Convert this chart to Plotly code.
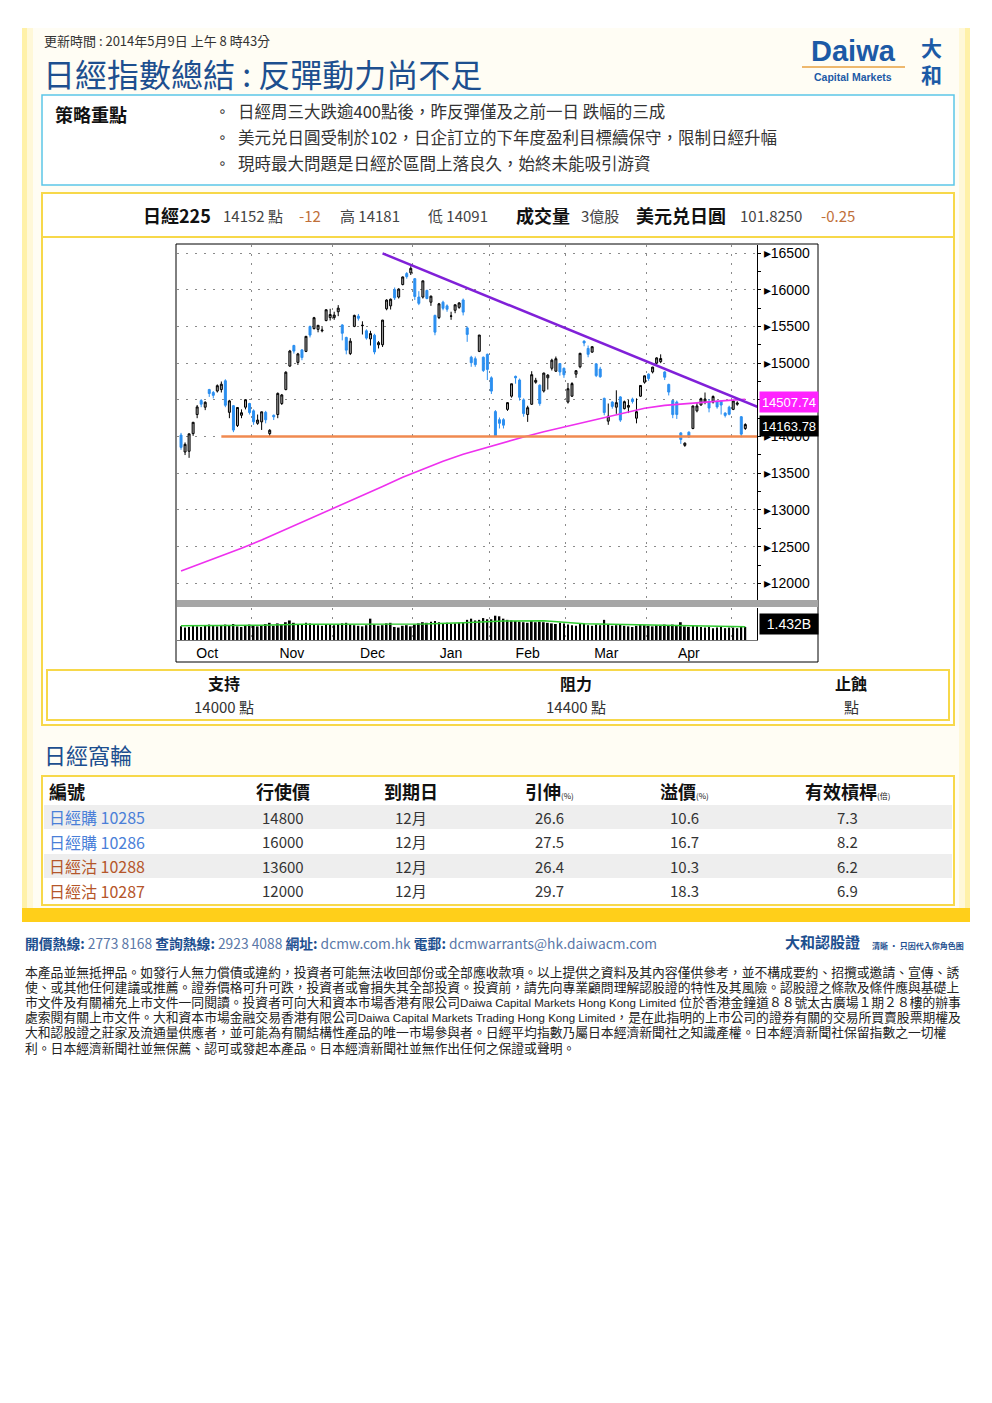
import plotly.graph_objects as go
import pandas as pd

W, H = 992, 1403
CJK = "Noto Sans CJK TC, Noto Sans CJK SC, sans-serif"
LAT = "Liberation Sans, Arial, sans-serif"
MIX = "Liberation Sans, Noto Sans CJK TC, sans-serif"

# ---------------- data ----------------
oct_days = [7, 8, 9, 10, 11, 15, 16, 17, 18, 21, 22, 23, 24, 25, 28, 29, 30, 31]
nov_days = [1, 5, 6, 7, 8, 11, 12, 13, 14, 15, 18, 19, 20, 21, 22, 25, 26, 27, 28, 29]
dec_days = [2, 3, 4, 5, 6, 9, 10, 11, 12, 13, 16, 17, 18, 19, 20, 24, 25, 26, 27, 30]
jan_days = [6, 7, 8, 9, 10, 14, 15, 16, 17, 20, 21, 22, 23, 24, 27, 28, 29, 30, 31]
feb_days = [3, 4, 5, 6, 7, 10, 12, 13, 14, 17, 18, 19, 20, 21, 24, 25, 26, 27, 28]
mar_days = [3, 4, 5, 6, 7, 10, 11, 12, 13, 14, 17, 18, 19, 20, 24, 25, 26, 27, 28, 31]
apr_days = [1, 2, 3, 4, 7, 8, 9, 10, 11, 14, 15, 16, 17, 18, 21, 22, 23, 24, 25, 28, 30]
may_days = [1, 2, 7, 8]

opens = [
    14020, 13790, 13800, 14040, 14300, 14490, 14400, 14640, 14600, 14620,
    14640, 14760, 14330, 14420, 14150, 14290, 14400, 14450, 14350, 14180,
    14200, 14330, 14040, 14290, 14300, 14450, 14640, 14960, 15240, 15010,
    15180, 15160, 15500, 15470, 15460, 15440, 15580, 15620, 15620, 15700,
    15520, 15350, 15130, 15500, 15640, 15510, 15440, 15330, 15380, 15250,
    15250, 15740, 15780, 16000, 15900, 16070, 16220, 16230, 16150, 15900,
    15900, 15990, 15830, 15650, 15620, 15830, 15780, 15640, 15720, 15760,
    15860, 15480, 15080, 15060, 15160, 15080, 15120, 14800, 14340, 14230,
    14230, 14370, 14550, 14820, 14770, 14500, 14300, 14440, 14740, 14700,
    14620, 14800, 14930, 14890, 14995, 14930, 14470, 14550, 14850, 14950,
    15300, 15200, 15150, 14990, 14920, 14520, 14210, 14470, 14400, 14540,
    14380, 14400, 14510, 14250, 14550, 14740, 14850, 14880, 15000, 15020,
    14880, 14710, 14490, 14470, 14050, 13880, 14060, 14110, 14350, 14430,
    14470, 14480, 14470, 14480, 14480, 14320, 14400, 14370, 14440, 14270,
    14110]
highs = [
    14050, 13920, 14040, 14200, 14430, 14510, 14480, 14650, 14620, 14710,
    14750, 14780, 14500, 14430, 14400, 14370, 14510, 14460, 14370, 14300,
    14340, 14350, 14100, 14300, 14600, 14580, 14890, 15180, 15250, 15140,
    15190, 15370, 15510, 15630, 15520, 15490, 15735, 15740, 15700, 15790,
    15530, 15360, 15340, 15660, 15670, 15570, 15460, 15440, 15400, 15300,
    15590, 15870, 15880, 16030, 16020, 16180, 16240, 16320, 16160, 15980,
    16120, 16000, 15920, 15660, 15820, 15850, 15800, 15700, 15800, 15830,
    15880, 15500, 15100, 15090, 15380, 15090, 15130, 14820, 14360, 14260,
    14250, 14470, 14720, 14830, 14790, 14520, 14420, 14890, 14800, 14710,
    14870, 14850, 15060, 15090, 15000, 14940, 14730, 14740, 14900, 15140,
    15310, 15240, 15230, 15000, 14950, 14530, 14450, 14480, 14630, 14550,
    14490, 14500, 14530, 14520, 14700, 14830, 14860, 14950, 15080, 15120,
    14890, 14720, 14500, 14490, 14060, 13920, 14070, 14420, 14460, 14530,
    14600, 14510, 14560, 14490, 14480, 14330, 14420, 14500, 14480, 14280,
    14181]
lows = [
    13820, 13748, 13710, 14010, 14250, 14400, 14360, 14540, 14520, 14600,
    14600, 14400, 14250, 14060, 14130, 14250, 14370, 14300, 14160, 14160,
    14090, 14180, 14000, 14225, 14250, 14430, 14630, 14950, 15130, 14975,
    15040, 15150, 15350, 15460, 15420, 15420, 15570, 15580, 15590, 15640,
    15310, 15120, 15110, 15490, 15580, 15390, 15320, 15240, 15120, 15200,
    15220, 15720, 15730, 15860, 15880, 16060, 16150, 16200, 15860, 15790,
    15880, 15870, 15780, 15380, 15600, 15720, 15700, 15590, 15680, 15740,
    15650, 15290, 14950, 14950, 15150, 14880, 14770, 14580, 13995, 14110,
    14110, 14350, 14530, 14720, 14490, 14270, 14200, 14430, 14720, 14420,
    14600, 14640, 14900, 14880, 14830, 14800, 14450, 14540, 14800, 14930,
    15230, 15080, 15140, 14810, 14800, 14290, 14160, 14380, 14310, 14200,
    14370, 14320, 14450, 14180, 14540, 14720, 14760, 14860, 14980, 15000,
    14770, 14560, 14250, 14240, 13900, 13860, 13980, 14100, 14330, 14420,
    14440, 14330, 14450, 14380, 14300, 14260, 14290, 14360, 14420, 13990,
    14091]
closes = [
    13853, 13894, 14037, 14194, 14404, 14441, 14467, 14586, 14561, 14693,
    14713, 14426, 14486, 14088, 14396, 14325, 14502, 14327, 14201, 14225,
    14337, 14228, 14086, 14269, 14588, 14567, 14876, 15165, 15164, 15126,
    15076, 15365, 15382, 15619, 15515, 15449, 15727, 15662, 15655, 15749,
    15407, 15177, 15299, 15650, 15611, 15515, 15341, 15403, 15152, 15279,
    15586, 15859, 15870, 15889, 16009, 16174, 16178, 16291, 15908, 15814,
    16121, 15880, 15912, 15422, 15808, 15747, 15734, 15641, 15795, 15820,
    15695, 15391, 15006, 14980, 15383, 14900, 14915, 14619, 14009, 14181,
    14155, 14462, 14719, 14800, 14535, 14313, 14393, 14843, 14766, 14450,
    14865, 14837, 15040, 15060, 14880, 14841, 14652, 14721, 14897, 15134,
    15274, 15120, 15224, 14830, 14815, 14327, 14277, 14411, 14462, 14224,
    14475, 14423, 14477, 14338, 14696, 14827, 14791, 14946, 15071, 15063,
    14808, 14606, 14299, 14300, 13960, 13910, 13996, 14417, 14417, 14516,
    14512, 14388, 14546, 14404, 14429, 14288, 14304, 14485, 14457, 14033,
    14163.78]
volumes = [  # billions of shares
    2.3, 2.1, 2.2, 2.4, 2.3, 2.2, 2.5, 2.6, 2.4, 2.3, 2.4, 2.6, 2.4, 2.7, 2.3, 2.2, 2.4, 2.6,
    2.4, 2.3, 2.5, 2.7, 2.9, 2.4, 2.8, 2.6, 3.0, 3.3, 2.9, 2.7, 2.6, 2.9, 2.8, 2.6, 2.5, 2.4, 2.7, 2.6,
    2.5, 2.7, 2.8, 2.9, 2.6, 2.5, 2.4, 2.3, 2.5, 3.6, 2.6, 2.4, 2.5, 2.8, 2.9, 2.2, 2.1, 2.4, 2.5, 2.3,
    2.6, 2.8, 3.0, 2.9, 3.1, 3.2, 3.0, 2.8, 2.9, 2.7, 2.8, 2.9, 3.0, 3.4, 3.6, 3.3, 3.4, 3.7, 3.5,
    3.5, 4.1, 4.0, 3.6, 3.4, 3.3, 3.2, 3.1, 3.0, 2.9, 3.2, 3.0, 3.1, 3.0, 2.9, 2.8, 2.7, 2.9, 2.8,
    2.6, 2.5, 2.4, 2.7, 2.8, 2.5, 2.4, 2.6, 2.5, 3.4, 2.6, 2.4, 2.5, 2.6, 2.4, 2.3, 2.2, 2.4, 2.6, 2.5,
    2.4, 2.3, 2.5, 2.4, 2.6, 2.5, 2.6, 2.4, 3.0, 2.3, 2.2, 2.4, 2.3, 2.2, 2.1, 2.2, 2.0, 2.1, 2.2, 2.0, 2.1,
    2.1, 2.0, 2.3, 2.2]

ma_idx = [0, 5, 10, 15, 20, 25, 30, 35, 40, 45, 50, 55, 60, 65, 70, 75, 80, 85, 90, 95,
          100, 105, 110, 115, 120, 125, 130, 135, 140]
ma_vals = [12170, 12270, 12375, 12480, 12590, 12710, 12830, 12950, 13075, 13200, 13320,
           13445, 13560, 13665, 13760, 13840, 13915, 13995, 14065, 14130, 14195, 14260,
           14325, 14385, 14425, 14450, 14470, 14490, 14507.74]
# volume moving average (green)
vma_idx = [0, 10, 20, 30, 40, 50, 60, 70, 80, 90, 100, 110, 120, 130, 140]
vma_vals = [2.40, 2.40, 2.50, 2.65, 2.65, 2.65, 2.70, 2.90, 3.20, 3.25, 2.75, 2.60, 2.50, 2.35, 2.25]
# analyst lines
trend_idx = [50, 143]
trend_vals = [16495, 14405]
support_level = 14000
resistance_level = 14400
support_start_idx = 10
price_ticks = [12000, 12500, 13000, 13500, 14000, 14500, 15000, 15500, 16000, 16500]
last_ma_label = "14507.74"
last_close_label = "14163.78"
volume_label = "1.432B"

bullets = ["日經周三大跌逾400點後，昨反彈僅及之前一日 跌幅的三成",
           "美元兑日圓受制於102，日企訂立的下年度盈利目標續保守，限制日經升幅",
           "現時最大問題是日經於區間上落良久，始終未能吸引游資"]

w_names = ["日經購 10285", "日經購 10286", "日經沽 10288", "日經沽 10287"]
w_strike = [14800, 16000, 13600, 12000]
w_expiry = ["12月", "12月", "12月", "12月"]
w_iv = [26.6, 27.5, 26.4, 29.7]
w_premium = [10.6, 16.7, 10.3, 18.3]
w_gearing = [7.3, 8.2, 6.2, 6.9]

LS = "<span style='font-size:11.5px'>"
LE = "</span>"
disclaimer = [
    "本產品並無抵押品。如發行人無力償債或違約，投資者可能無法收回部份或全部應收款項。以上提供之資料及其內容僅供參考，並不構成要約、招攬或邀請、宣傳、誘",
    "使、或其他任何建議或推薦。證券價格可升可跌，投資者或會損失其全部投資。投資前，請先向專業顧問理解認股證的特性及其風險。認股證之條款及條件應與基礎上",
    "市文件及有關補充上市文件一同閱讀。投資者可向大和資本市場香港有限公司" + LS + "Daiwa Capital Markets Hong Kong Limited " + LE + "位於香港金鐘道８８號太古廣場１期２８樓的辦事",
    "處索閱有關上市文件。大和資本市場金融交易香港有限公司" + LS + "Daiwa Capital Markets Trading Hong Kong Limited" + LE + "，是在此指明的上市公司的證券有關的交易所買賣股票期權及",
    "大和認股證之莊家及流通量供應者，並可能為有關結構性產品的唯一市場參與者。日經平均指數乃屬日本經濟新聞社之知識產權。日本經濟新聞社保留指數之一切權",
    "利。日本經濟新聞社並無保薦、認可或發起本產品。日本經濟新聞社並無作出任何之保證或聲明。",
]

# ---------------- derived from data ----------------
dates = ([f"2013-10-{d:02d}" for d in oct_days] + [f"2013-11-{d:02d}" for d in nov_days] +
         [f"2013-12-{d:02d}" for d in dec_days] + [f"2014-01-{d:02d}" for d in jan_days] +
         [f"2014-02-{d:02d}" for d in feb_days] + [f"2014-03-{d:02d}" for d in mar_days] +
         [f"2014-04-{d:02d}" for d in apr_days] + [f"2014-05-{d:02d}" for d in may_days])
dt = pd.to_datetime(dates)
idx = list(range(len(dates)))
months = dt.to_period("M")
boundaries = [i - 0.5 for i in range(1, len(idx)) if months[i] != months[i - 1]]
groups = pd.Series(idx).groupby(months.values)
lens = groups.size()
full_len = float(pd.Series(lens.values[1:-1]).median())
centers, labels = [], []
edges = [None] + boundaries + [None]
for k, (per, g) in enumerate(groups):
    if len(g) < 10:
        continue
    lo, hi = edges[k], edges[k + 1]
    if lo is None:
        c = hi - full_len / 2 - 1
    elif hi is None:
        c = lo + full_len / 2
    else:
        c = (lo + hi) / 2
    centers.append(c)
    labels.append(per.strftime("%b"))

# tick labels hidden behind the moving-average value box are not drawn
tick_text = ["" if abs(t - ma_vals[-1]) < 100 else "▸" + str(t) for t in price_ticks]


def px(x):
    return x / W


def py(y):
    return 1 - y / H


fig = go.Figure()

fig.add_trace(go.Candlestick(
    x=idx, open=opens, high=highs, low=lows, close=closes,
    increasing=dict(line=dict(color="black", width=1), fillcolor="#a0a0a0"),
    decreasing=dict(line=dict(color="#2b8ff0", width=1), fillcolor="#2b8ff0"),
    whiskerwidth=0, xaxis="x", yaxis="y", hoverinfo="skip", showlegend=False))
fig.add_trace(go.Scatter(x=ma_idx, y=ma_vals, mode="lines", line=dict(color="#ee30ee", width=1.6),
                         xaxis="x", yaxis="y", hoverinfo="skip", showlegend=False))
fig.add_trace(go.Scatter(x=[support_start_idx, 143], y=[support_level, support_level], mode="lines",
                         line=dict(color="#f08a50", width=2.5), xaxis="x", yaxis="y",
                         hoverinfo="skip", showlegend=False))
fig.add_trace(go.Scatter(x=trend_idx, y=trend_vals, mode="lines", line=dict(color="#8020d8", width=2.5),
                         xaxis="x", yaxis="y", hoverinfo="skip", showlegend=False))
fig.add_trace(go.Bar(x=idx, y=volumes, width=0.45, marker=dict(color="black", line=dict(width=0)),
                     xaxis="x2", yaxis="y2", hoverinfo="skip", showlegend=False))
fig.add_trace(go.Scatter(x=vma_idx, y=vma_vals, mode="lines", line=dict(color="#33cc33", width=1.5),
                         xaxis="x2", yaxis="y2", hoverinfo="skip", showlegend=False))

GRID = dict(showgrid=True, gridcolor="#8a8a8a", griddash="2px,7px", gridwidth=1)
x_dom = [px(177), px(757)]
xr = [-1, 142.9]
fig.update_layout(
    width=W, height=H, margin=dict(l=0, r=0, t=0, b=0),
    paper_bgcolor="white", plot_bgcolor="white", hovermode=False, showlegend=False,
    xaxis=dict(domain=x_dom, range=xr, anchor="y", showticklabels=False, showgrid=False,
               zeroline=False, ticks="", fixedrange=True, rangeslider=dict(visible=False),
               minor=dict(tickvals=boundaries, **GRID)),
    yaxis=dict(domain=[py(600), py(245)], range=[11774, 16609], anchor="x", side="right",
               tickvals=price_ticks, ticktext=tick_text,
               tickfont=dict(family=LAT, size=14, color="black"),
               showline=True, linecolor="black", linewidth=1, ticks="outside", ticklen=3,
               tickcolor="black", zeroline=False, fixedrange=True,
               minor=dict(dtick=250, ticks="outside", ticklen=3, tickcolor="black"), **GRID),
    xaxis2=dict(domain=x_dom, range=xr, anchor="y2", tickvals=centers, ticktext=labels, ticks="",
                tickfont=dict(family=LAT, size=14, color="black"), showgrid=False,
                showline=True, linecolor="#777", zeroline=False, fixedrange=True,
                minor=dict(tickvals=boundaries, **GRID)),
    yaxis2=dict(domain=[py(640), py(608)], range=[0, 5.4], anchor="x2", side="right",
                showticklabels=False, showgrid=False, showline=True, linecolor="black",
                zeroline=False, ticks="", fixedrange=True),
)

shapes = []


def rect(x0, y0, x1, y1, fill=None, line=None, lw=1, layer="below"):
    shapes.append(dict(type="rect", xref="paper", yref="paper", x0=px(x0), x1=px(x1),
                       y0=py(y1), y1=py(y0), fillcolor=fill or "rgba(0,0,0,0)",
                       line=dict(color=line or "rgba(0,0,0,0)", width=lw if line else 0), layer=layer))


def hline(x0, x1, y, color, lw=1, layer="below"):
    shapes.append(dict(type="line", xref="paper", yref="paper", x0=px(x0), x1=px(x1),
                       y0=py(y), y1=py(y), line=dict(color=color, width=lw), layer=layer))


# page frame
rect(22, 28, 970, 922, fill="#fff1a8")
rect(27, 28, 965, 912, fill="#fff8d8")
rect(33, 28, 959, 908, fill="#fffdf4")
rect(22, 908, 970, 922, fill="#ffcf1a")
# boxes
rect(42, 95, 954, 185, fill="white", line="#5cc6e8", lw=1.5)
rect(42, 193, 954, 725, fill="white", line="#f7d84a", lw=2)
hline(42, 954, 237, "#f7d84a", 2)
rect(176, 244, 818, 662, fill="white", line="black", lw=1)
rect(47, 670, 949, 720, fill="white", line="#f7d84a", lw=2)
rect(42, 776, 954, 905, fill="white", line="#f7d84a", lw=2)
rect(44, 805, 952, 829, fill="#eeeeee")
rect(44, 854, 952, 878, fill="#eeeeee")
# chart separator band
rect(177, 600, 818, 607, fill="#a6a6a6", layer="above")
# logo underline
hline(802, 905, 67, "#e8a040", 1.5)
fig.update_layout(shapes=shapes)

ann = []


def T(text, x, y, size, color="#222", bold=False, anchor="left", family=CJK, **kw):
    if bold:
        text = "<b>" + text + "</b>"
    d = dict(text=text, xref="paper", yref="paper", x=px(x), y=py(y), xanchor=anchor,
             yanchor="middle", showarrow=False, font=dict(family=family, size=size, color=color))
    d.update(kw)
    ann.append(d)


DARK_BLUE = "#1d4f8f"
# header
T("更新時間 : 2014年5月9日 上午 8 時43分", 42, 41, 13, "#333")
T("日經指數總結 : 反彈動力尚不足", 41, 73, 32, DARK_BLUE)
T("Daiwa", 853, 51, 29, "#1c5aa6", True, "center", LAT)
T("Capital Markets", 853, 77, 10.5, "#1c5aa6", True, "center", LAT)
T("大<br>和", 931, 61, 21, "#1c5aa6", True, "center")
# strategy box
T("策略重點", 53, 114, 18, "#111", True)
for k, b in enumerate(bullets):
    yy = 111 + 26 * k
    T("∘", 222, yy, 14, "#333", anchor="center", family="DejaVu Sans")
    T(b, 236, yy, 16.5, "#333")
# info line
ORANGE = "#c0703a"
T("日經225", 141, 215, 18, "#111", True)
T("14152 點", 221, 215, 15, "#444")
T("-12", 297, 215, 15, ORANGE)
T("高 14181", 338, 215, 15, "#444")
T("低 14091", 426, 215, 15, "#444")
T("成交量", 514, 215, 18, "#111", True)
T("3億股", 579, 215, 15, "#444")
T("美元兑日圓", 634, 215, 18, "#111", True)
T("101.8250", 738, 215, 15, "#444")
T("-0.25", 819, 215, 15, ORANGE)
# chart labels
ann.append(dict(text=last_ma_label, xref="paper", yref="y", x=px(759), y=ma_vals[-1], yshift=-3,
                xanchor="left", yanchor="middle", showarrow=False, bgcolor="#ff22ff", width=56,
                height=18, font=dict(family=LAT, size=13, color="white")))
ann.append(dict(text=last_close_label, xref="paper", yref="y", x=px(759), y=closes[-1], yshift=-1,
                xanchor="left", yanchor="middle", showarrow=False, bgcolor="black", width=56,
                height=18, font=dict(family=LAT, size=13, color="white")))
T(volume_label, 759, 624, 14, "white", family=LAT, bgcolor="black", width=56, height=18)
# support / resistance box
T("支持", 224, 683, 16, "#111", True, "center")
T(f"{support_level} 點", 224, 707, 15, "#333", anchor="center")
T("阻力", 576, 683, 16, "#111", True, "center")
T(f"{resistance_level} 點", 576, 707, 15, "#333", anchor="center")
T("止蝕", 851, 683, 16, "#111", True, "center")
T("點", 851, 707, 15, "#333", anchor="center")
# warrants
T("日經窩輪", 42, 754, 22, DARK_BLUE)
sub = "<span style='font-size:8px'>(%)</span>"
T("編號", 47, 791, 18, "#111", True)
T("行使價", 283, 791, 18, "#111", True, "center")
T("到期日", 411, 791, 18, "#111", True, "center")
T("引伸</b>" + sub + "<b>", 549, 791, 18, "#111", True, "center")
T("溢價</b>" + sub + "<b>", 684, 791, 18, "#111", True, "center")
T("有效槓桿</b><span style='font-size:8px'>(倍)</span><b>", 847, 791, 18, "#111", True, "center")
for k in range(len(w_names)):
    yy = 817 + 24.6 * k
    col = "#4a7fd8" if "購" in w_names[k] else "#b5562a"
    T(w_names[k], 47, yy, 16, col)
    T(str(w_strike[k]), 283, yy, 15, "#333", anchor="center")
    T(w_expiry[k], 411, yy, 15, "#333", anchor="center")
    T(f"{w_iv[k]:.1f}", 549, yy, 15, "#333", anchor="center")
    T(f"{w_premium[k]:.1f}", 684, yy, 15, "#333", anchor="center")
    T(f"{w_gearing[k]:.1f}", 847, yy, 15, "#333", anchor="center")
# footer
LB = "#5a78a8"
footer = (f"<b>開價熱線:</b><span style='color:{LB}'> 2773 8168 </span>"
          f"<b>查詢熱線:</b><span style='color:{LB}'> 2923 4088 </span>"
          f"<b>網址:</b><span style='color:{LB}'> dcmw.com.hk </span>"
          f"<b>電郵:</b><span style='color:{LB}'> dcmwarrants@hk.daiwacm.com</span>")
T(footer, 23, 943, 13.8, DARK_BLUE)
T("大和認股證", 783, 942, 15, DARK_BLUE, True)
T("清晰 · 只因代入你角色图", 870, 945, 8, DARK_BLUE, True)
for k, line in enumerate(disclaimer):
    T(line, 23, 972 + 15.2 * k, 12.8, "#222", family=MIX)

fig.update_layout(annotations=ann)

fig.write_html("out.html", config={"displayModeBar": False},
               post_script="document.body.style.margin='0';")
